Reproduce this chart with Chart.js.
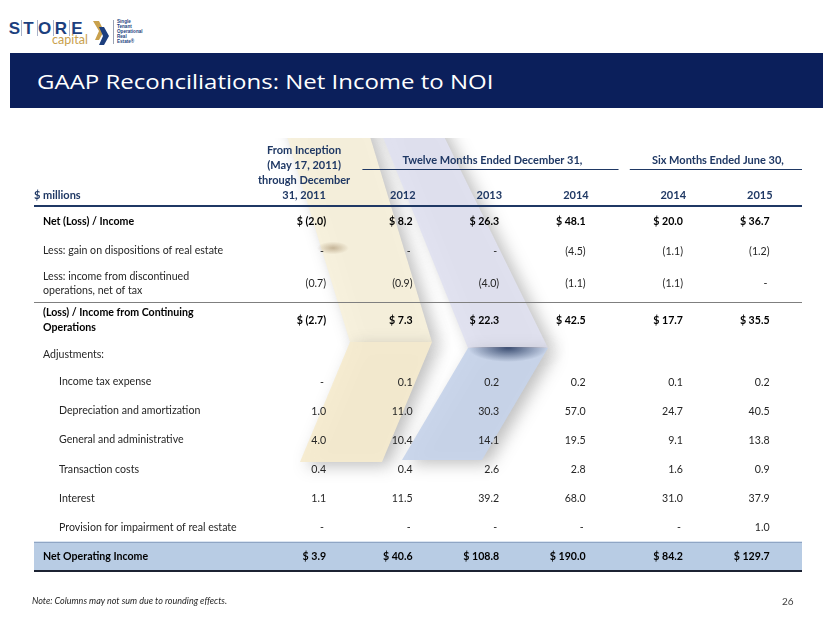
<!DOCTYPE html>
<html>
<head>
<meta charset="utf-8">
<title>GAAP Reconciliations: Net Income to NOI</title>
<script src="https://cdn.jsdelivr.net/npm/chart.js@4.4.1/dist/chart.umd.min.js"></script>
<style>
  html,body{margin:0;padding:0;background:#ffffff;}
  body{width:830px;height:623px;position:relative;overflow:hidden;font-family:Lato,"Open Sans",sans-serif;}
  #banner{position:absolute;left:10px;top:53px;width:813px;height:55px;background:#0b1f5b;}
  #title{position:absolute;left:37px;top:72px;margin:0;font:400 20px/20px "Open Sans",Lato,sans-serif;color:#ffffff;white-space:nowrap;transform:scaleX(1.2);transform-origin:0 0;}
  .ltr{position:absolute;top:20px;width:15px;text-align:center;font:700 17px/17px "Liberation Sans",Arial,sans-serif;color:#1d3f7e;}
  .sep{position:absolute;top:20px;width:1px;height:16px;background:#a9b3c9;}
  #capital{position:absolute;left:52px;top:33px;font:400 12.5px/14px Lato,sans-serif;color:#c9a14d;}
  #icon{position:absolute;left:92px;top:19px;}
  #vline{position:absolute;left:113px;top:20px;width:1px;height:24px;background:#9aa3b5;}
  #tag{position:absolute;left:117px;top:20px;font:700 4.6px/4.9px "Liberation Sans",Arial,sans-serif;color:#1d3f7e;white-space:nowrap;}
  #chart{position:absolute;left:0;top:0;}
  #note{position:absolute;left:32px;top:596px;font:italic 400 9px/10px Lato,sans-serif;color:#262626;white-space:nowrap;}
  #page{position:absolute;left:782px;top:595px;font:400 10px/12px Lato,sans-serif;color:#404040;}
</style>
</head>
<body>
<div id="banner"></div>
<h1 id="title">GAAP Reconciliations: Net Income to NOI</h1>

<div id="logo">
  <span class="ltr" style="left:7px">S</span>
  <span class="sep" style="left:21px"></span>
  <span class="ltr" style="left:21px">T</span>
  <span class="sep" style="left:37px"></span>
  <span class="ltr" style="left:37px">O</span>
  <span class="sep" style="left:53px"></span>
  <span class="ltr" style="left:53.5px">R</span>
  <span class="sep" style="left:69px"></span>
  <span class="ltr" style="left:69.5px">E</span>
  <span id="capital">capital</span>
  <svg id="icon" width="20" height="28" viewBox="0 0 20 28">
    <polygon points="1,2 7,2 12,12 7,21 3,21 7,12" fill="#c9a14d"/>
    <polygon points="7,8 12,8 17,17 12,26 7,26 11,17" fill="#1d3f7e"/>
  </svg>
  <div id="vline"></div>
  <div id="tag">Single<br>Tenant<br>Operational<br>Real<br>Estate®</div>
</div>

<canvas id="chart" width="830" height="623"></canvas>

<div id="note">Note: Columns may not sum due to rounding effects.</div>
<div id="page">26</div>

<script>
// ---------------- data ----------------
const unitLabel = '$ millions';
const groupHeaders = ['Twelve Months Ended December 31,', 'Six Months Ended June 30,'];
const periodHeaders = [
  ['From Inception', '(May 17, 2011)', 'through December', '31, 2011'],
  ['2012'], ['2013'], ['2014'], ['2014'], ['2015']
];
const rowLabels = [
  ['Net (Loss) / Income'],
  ['Less: gain on dispositions of real estate'],
  ['Less: income from discontinued', 'operations, net of tax'],
  ['(Loss) / Income from Continuing', 'Operations'],
  ['Adjustments:'],
  ['Income tax expense'],
  ['Depreciation and amortization'],
  ['General and administrative'],
  ['Transaction costs'],
  ['Interest'],
  ['Provision for impairment of real estate'],
  ['Net Operating Income']
];
const rowStyles = ['bold', 'plain', 'plain', 'bold', 'section', 'indent', 'indent', 'indent', 'indent', 'indent', 'indent', 'total'];
// null = "-" ; the "Adjustments:" row (section) carries no values
const inception2011 = [-2.0, null, -0.7, -2.7, null, null, 1.0, 4.0, 0.4, 1.1, null, 3.9];
const fy2012 = [8.2, null, -0.9, 7.3, null, 0.1, 11.0, 10.4, 0.4, 11.5, null, 40.6];
const fy2013 = [26.3, null, -4.0, 22.3, null, 0.2, 30.3, 14.1, 2.6, 39.2, null, 108.8];
const fy2014 = [48.1, -4.5, -1.1, 42.5, null, 0.2, 57.0, 19.5, 2.8, 68.0, null, 190.0];
const h1_2014 = [20.0, -1.1, -1.1, 17.7, null, 0.1, 24.7, 9.1, 1.6, 31.0, null, 84.2];
const h1_2015 = [36.7, -1.2, null, 35.5, null, 0.2, 40.5, 13.8, 0.9, 37.9, 1.0, 129.7];
const columns = [inception2011, fy2012, fy2013, fy2014, h1_2014, h1_2015];

// ---------------- layout (scale units) ----------------
const GROUP_GAP = 0.125;            // extra space before the six-month group
const XMIN = -3.375, XMAX = 5.5;     // label column .. right edge of table
const rowSpans = rowLabels.map(l => l.length > 1 ? 1.25 : 1);
const YMAX = rowSpans.reduce((s, v) => s + v, 0);
function colPos(j) { return j + (j >= 4 ? GROUP_GAP : 0); }
function rowStart(i) { let s = 0; for (let k = 0; k < i; k++) s += rowSpans[k]; return s; }
function rowCenter(i) { return rowStart(i) + rowSpans[i] / 2; }

function fmt(v, money) {
  if (v === null) return '-';
  let s = Math.abs(v).toFixed(1);
  if (v < 0) s = '(' + s + ')';
  return money ? '$ ' + s : s;
}

const FONT = 'Lato, "Open Sans", sans-serif';
const NAVY = '#1f3864';
const totalRow = rowStyles.indexOf('total');

function drawWatermark(chart) {
  const ctx = chart.ctx;
  ctx.save();
  function poly(pts, fill) {
    ctx.beginPath();
    ctx.moveTo(pts[0][0], pts[0][1]);
    for (let k = 1; k < pts.length; k++) ctx.lineTo(pts[k][0], pts[k][1]);
    ctx.closePath();
    ctx.fillStyle = fill;
    ctx.fill();
  }
  ctx.beginPath();
  ctx.rect(0, 138, 830, 345);
  ctx.clip();
  ctx.globalAlpha = 0.95;
  ctx.shadowColor = 'rgba(90,90,90,0.4)';
  ctx.shadowBlur = 16;
  ctx.shadowOffsetX = 7;
  ctx.shadowOffsetY = 4;
  // gold chevron
  poly([[282,120],[365,120],[432,342],[350,342]], '#f8f1dc');
  poly([[350,342],[432,342],[382,462],[300,462]], '#f5ebcf');
  // blue chevron
  poly([[376,120],[436,120],[548,348],[468,348]], '#e0e1f0');
  poly([[468,348],[548,348],[482,460],[402,460]], '#c7d4ea');
  ctx.shadowColor = 'transparent';
  // creases
  ctx.save();
  ctx.beginPath(); ctx.rect(460, 347, 95, 30); ctx.clip();
  let g = ctx.createRadialGradient(508, 348, 2, 508, 348, 40);
  g.addColorStop(0, 'rgba(25,45,85,0.8)');
  g.addColorStop(1, 'rgba(25,45,85,0)');
  ctx.translate(508, 348); ctx.scale(1, 0.35); ctx.translate(-508, -348);
  ctx.fillStyle = g; ctx.beginPath(); ctx.arc(508, 348, 40, 0, Math.PI * 2); ctx.fill();
  ctx.restore();
  g = ctx.createRadialGradient(333, 248, 1, 333, 248, 16);
  g.addColorStop(0, 'rgba(140,110,70,0.45)');
  g.addColorStop(1, 'rgba(140,110,70,0)');
  ctx.save();
  ctx.translate(333, 248); ctx.scale(1, 0.4); ctx.translate(-333, -248);
  ctx.fillStyle = g; ctx.beginPath(); ctx.arc(333, 248, 16, 0, Math.PI * 2); ctx.fill();
  ctx.restore();
  ctx.restore();
}

const tablePlugin = {
  id: 'tableText',
  beforeDatasetsDraw(chart) { drawWatermark(chart); },
  afterDatasetsDraw(chart) {
    const { ctx, chartArea: a, scales: { x, y } } = chart;
    ctx.save();
    ctx.textBaseline = 'middle';

    // ---- header ----
    const yYears = a.top - 12, yGroup = a.top - 47, yUnder = a.top - 37.5;
    ctx.fillStyle = NAVY;
    ctx.font = `700 11px ${FONT}`;
    ctx.textAlign = 'left';
    ctx.fillText(unitLabel, a.left, yYears);
    periodHeaders.forEach((lines, j) => {
      const xr = x.getPixelForValue(colPos(j));
      if (lines.length > 1) {
        ctx.textAlign = 'center';
        lines.forEach((t, k) => ctx.fillText(t, xr - 22, yYears - (lines.length - 1 - k) * 14.8));
      } else {
        ctx.textAlign = 'right';
        ctx.fillText(lines[0], xr + 3, yYears);
      }
    });
    const spans = [[x.getPixelForValue(0.42), x.getPixelForValue(3.38)],
                   [x.getPixelForValue(3.51), x.getPixelForValue(XMAX)]];
    ctx.strokeStyle = NAVY;
    ctx.lineWidth = 1;
    spans.forEach(([l, r], k) => {
      ctx.textAlign = 'center';
      ctx.fillText(groupHeaders[k], (l + r) / 2 + 2, yGroup);
      ctx.beginPath(); ctx.moveTo(l, yUnder); ctx.lineTo(r, yUnder); ctx.stroke();
    });

    // ---- rule lines ----
    ctx.lineWidth = 2;
    ctx.strokeStyle = NAVY;
    ctx.beginPath(); ctx.moveTo(a.left, a.top - 1); ctx.lineTo(a.right, a.top - 1); ctx.stroke();
    ctx.strokeStyle = '#1c2333';
    ctx.beginPath(); ctx.moveTo(a.left, a.bottom); ctx.lineTo(a.right, a.bottom); ctx.stroke();
    ctx.lineWidth = 1;
    ctx.strokeStyle = '#7f7f7f';
    const ySep = Math.round(y.getPixelForValue(rowStart(3))) + 0.5;
    ctx.beginPath(); ctx.moveTo(a.left, ySep); ctx.lineTo(a.right, ySep); ctx.stroke();
    ctx.strokeStyle = '#8fa5c4';
    const yTot = Math.round(y.getPixelForValue(rowStart(totalRow))) + 0.5;
    ctx.beginPath(); ctx.moveTo(a.left, yTot); ctx.lineTo(a.right, yTot); ctx.stroke();

    // ---- rows ----
    rowLabels.forEach((lines, i) => {
      const st = rowStyles[i];
      const yc = y.getPixelForValue(rowCenter(i)) + (st === 'section' ? 1.5 : 0);
      const bold = st === 'bold' || st === 'total';
      ctx.fillStyle = bold ? '#000000' : '#262626';
      ctx.font = `${bold ? 700 : 400} 10.6px ${FONT}`;
      ctx.textAlign = 'left';
      const lx = a.left + (st === 'indent' ? 25 : 9);
      lines.forEach((t, k) => ctx.fillText(t, lx, yc + (k - (lines.length - 1) / 2) * 14.5));
      if (st === 'section') return;
      ctx.textAlign = 'right';
      columns.forEach((col, j) => {
        const v = col[i];
        const xr = x.getPixelForValue(colPos(j));
        ctx.fillText(fmt(v, bold), v === null ? xr - 2 : xr, yc + 0.5);
      });
    });
    ctx.restore();
  }
};

new Chart(document.getElementById('chart'), {
  type: 'bar',
  data: {
    datasets: [{
      label: 'Net Operating Income',
      data: [{ x: [XMIN, XMAX], y: rowCenter(totalRow) }],
      backgroundColor: '#b8cce4',
      borderWidth: 0,
      barThickness: 29
    }]
  },
  options: {
    indexAxis: 'y',
    responsive: false,
    animation: false,
    devicePixelRatio: 1,
    layout: { padding: { left: 34, right: 28, top: 207, bottom: 52 } },
    scales: {
      x: { type: 'linear', min: XMIN, max: XMAX, display: false },
      y: { type: 'linear', min: 0, max: YMAX, reverse: true, offset: false, display: false }
    },
    plugins: { legend: { display: false }, tooltip: { enabled: false }, title: { display: false } }
  },
  plugins: [tablePlugin]
});
</script>
</body>
</html>
